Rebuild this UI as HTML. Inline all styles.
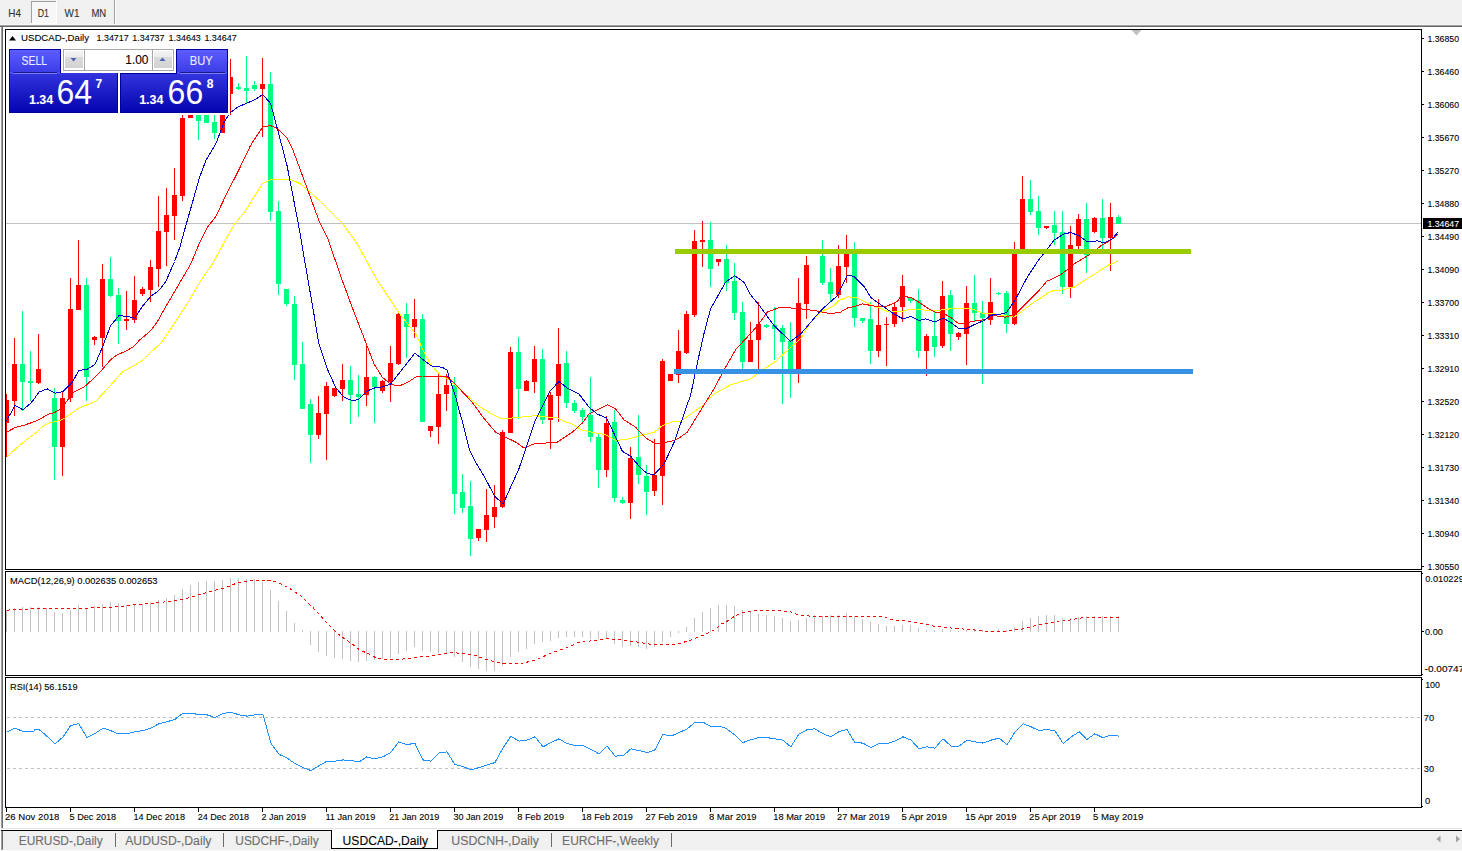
<!DOCTYPE html>
<html><head><meta charset="utf-8"><title>USDCAD-,Daily</title><style>html,body{margin:0;padding:0;background:#fff}body{width:1462px;height:851px;overflow:hidden;position:relative}</style></head><body>
<svg width="1462" height="851" viewBox="0 0 1462 851" font-family="'Liberation Sans', Arial, sans-serif" style="position:absolute;left:0;top:0">
<defs><linearGradient id="tg" x1="0" y1="0" x2="0" y2="1"><stop offset="0" stop-color="#5c5cff"/><stop offset="1" stop-color="#3c3ce6"/></linearGradient><linearGradient id="pg" x1="0" y1="0" x2="0" y2="1"><stop offset="0" stop-color="#3434de"/><stop offset="1" stop-color="#0404b0"/></linearGradient><linearGradient id="bg" x1="0" y1="0" x2="0" y2="1"><stop offset="0" stop-color="#f4f4f4"/><stop offset="0.35" stop-color="#ececec"/><stop offset="0.36" stop-color="#dcdcdc"/><stop offset="1" stop-color="#d2d2d2"/></linearGradient></defs>
<rect x="0" y="0" width="1462" height="851" fill="#ffffff"/>
<rect x="0" y="0" width="1462" height="25" fill="#f0f0f0"/>
<rect x="0" y="24" width="1462" height="1" fill="#f6f6f6"/>
<rect x="0" y="25" width="1462" height="1" fill="#a0a0a0"/>
<rect x="0" y="26" width="1462" height="1" fill="#696969"/>
<rect x="31" y="1" width="25" height="23" fill="#f7f7f7"/>
<rect x="31" y="1" width="25" height="1" fill="#a0a0a0"/>
<rect x="31" y="1" width="1" height="22" fill="#a0a0a0"/>
<rect x="56" y="1" width="1" height="23" fill="#ffffff"/>
<rect x="31" y="23" width="26" height="1" fill="#ffffff"/>
<rect x="114" y="0" width="1" height="24" fill="#a0a0a0"/>
<rect x="115" y="0" width="1" height="24" fill="#ffffff"/>
<text x="8.3" y="17" font-size="10.2" fill="#333" stroke="#333" stroke-width="0.1" textLength="12.6" lengthAdjust="spacingAndGlyphs">H4</text>
<text x="37.8" y="17" font-size="10.2" fill="#333" stroke="#333" stroke-width="0.1" textLength="11.2" lengthAdjust="spacingAndGlyphs">D1</text>
<text x="64.6" y="17" font-size="10.2" fill="#333" stroke="#333" stroke-width="0.1" textLength="14.8" lengthAdjust="spacingAndGlyphs">W1</text>
<text x="91.4" y="17" font-size="10.2" fill="#333" stroke="#333" stroke-width="0.1" textLength="14.8" lengthAdjust="spacingAndGlyphs">MN</text>
<rect x="0" y="27" width="1" height="801" fill="#f8f8f8"/>
<rect x="1" y="27" width="1" height="801" fill="#a0a0a0"/>
<rect x="2" y="27" width="1" height="801" fill="#696969"/>
<rect x="6" y="223" width="1415" height="1" fill="#c0c0c0"/>
<g shape-rendering="crispEdges">
<rect x="6" y="394" width="1" height="63" fill="#ff0000"/>
<rect x="6" y="400" width="3" height="23" fill="#ff0000"/>
<rect x="14" y="338" width="1" height="78" fill="#ff0000"/>
<rect x="12" y="364" width="5" height="37" fill="#ff0000"/>
<rect x="22" y="311" width="1" height="100" fill="#00ff7f"/>
<rect x="20" y="364" width="5" height="18" fill="#00ff7f"/>
<rect x="30" y="351" width="1" height="50" fill="#00ff7f"/>
<rect x="28" y="381" width="5" height="2" fill="#00ff7f"/>
<rect x="38" y="334" width="1" height="50" fill="#ff0000"/>
<rect x="36" y="369" width="5" height="14" fill="#ff0000"/>
<rect x="54" y="388" width="1" height="92" fill="#00ff7f"/>
<rect x="52" y="398" width="5" height="49" fill="#00ff7f"/>
<rect x="62" y="391" width="1" height="85" fill="#ff0000"/>
<rect x="60" y="398" width="5" height="49" fill="#ff0000"/>
<rect x="70" y="278" width="1" height="124" fill="#ff0000"/>
<rect x="68" y="309" width="5" height="89" fill="#ff0000"/>
<rect x="78" y="240" width="1" height="70" fill="#ff0000"/>
<rect x="76" y="285" width="5" height="25" fill="#ff0000"/>
<rect x="86" y="278" width="1" height="123" fill="#00ff7f"/>
<rect x="84" y="285" width="5" height="92" fill="#00ff7f"/>
<rect x="94" y="336" width="1" height="9" fill="#ff0000"/>
<rect x="92" y="337" width="5" height="3" fill="#ff0000"/>
<rect x="102" y="264" width="1" height="103" fill="#ff0000"/>
<rect x="100" y="279" width="5" height="59" fill="#ff0000"/>
<rect x="110" y="257" width="1" height="40" fill="#00ff7f"/>
<rect x="108" y="279" width="5" height="17" fill="#00ff7f"/>
<rect x="118" y="288" width="1" height="56" fill="#00ff7f"/>
<rect x="116" y="295" width="5" height="26" fill="#00ff7f"/>
<rect x="126" y="291" width="1" height="39" fill="#ff0000"/>
<rect x="124" y="319" width="5" height="2" fill="#ff0000"/>
<rect x="134" y="276" width="1" height="47" fill="#ff0000"/>
<rect x="132" y="300" width="5" height="20" fill="#ff0000"/>
<rect x="142" y="287" width="1" height="9" fill="#ff0000"/>
<rect x="140" y="289" width="5" height="5" fill="#ff0000"/>
<rect x="150" y="260" width="1" height="42" fill="#ff0000"/>
<rect x="148" y="267" width="5" height="23" fill="#ff0000"/>
<rect x="158" y="196" width="1" height="91" fill="#ff0000"/>
<rect x="156" y="231" width="5" height="38" fill="#ff0000"/>
<rect x="166" y="188" width="1" height="78" fill="#ff0000"/>
<rect x="164" y="215" width="5" height="17" fill="#ff0000"/>
<rect x="174" y="168" width="1" height="72" fill="#ff0000"/>
<rect x="172" y="195" width="5" height="21" fill="#ff0000"/>
<rect x="182" y="110" width="1" height="91" fill="#ff0000"/>
<rect x="180" y="118" width="5" height="78" fill="#ff0000"/>
<rect x="190" y="110" width="1" height="8" fill="#ff0000"/>
<rect x="188" y="110" width="5" height="8" fill="#ff0000"/>
<rect x="198" y="110" width="1" height="30" fill="#00ff7f"/>
<rect x="196" y="110" width="5" height="11" fill="#00ff7f"/>
<rect x="206" y="110" width="1" height="13" fill="#00ff7f"/>
<rect x="204" y="110" width="5" height="13" fill="#00ff7f"/>
<rect x="214" y="110" width="1" height="29" fill="#00ff7f"/>
<rect x="212" y="122" width="5" height="11" fill="#00ff7f"/>
<rect x="222" y="110" width="1" height="23" fill="#ff0000"/>
<rect x="220" y="110" width="5" height="23" fill="#ff0000"/>
<rect x="230" y="59" width="1" height="56" fill="#ff0000"/>
<rect x="228" y="77" width="5" height="17" fill="#ff0000"/>
<rect x="238" y="83" width="1" height="7" fill="#00ff7f"/>
<rect x="236" y="87" width="5" height="2" fill="#00ff7f"/>
<rect x="246" y="56" width="1" height="47" fill="#00ff7f"/>
<rect x="244" y="88" width="5" height="3" fill="#00ff7f"/>
<rect x="254" y="81" width="1" height="10" fill="#00ff7f"/>
<rect x="252" y="85" width="5" height="4" fill="#00ff7f"/>
<rect x="262" y="58" width="1" height="79" fill="#ff0000"/>
<rect x="260" y="84" width="5" height="5" fill="#ff0000"/>
<rect x="270" y="72" width="1" height="149" fill="#00ff7f"/>
<rect x="268" y="84" width="5" height="128" fill="#00ff7f"/>
<rect x="278" y="201" width="1" height="94" fill="#00ff7f"/>
<rect x="276" y="211" width="5" height="73" fill="#00ff7f"/>
<rect x="286" y="289" width="1" height="17" fill="#00ff7f"/>
<rect x="284" y="289" width="5" height="15" fill="#00ff7f"/>
<rect x="294" y="296" width="1" height="84" fill="#00ff7f"/>
<rect x="292" y="304" width="5" height="61" fill="#00ff7f"/>
<rect x="302" y="342" width="1" height="67" fill="#00ff7f"/>
<rect x="300" y="364" width="5" height="45" fill="#00ff7f"/>
<rect x="310" y="399" width="1" height="64" fill="#00ff7f"/>
<rect x="308" y="404" width="5" height="31" fill="#00ff7f"/>
<rect x="318" y="396" width="1" height="43" fill="#ff0000"/>
<rect x="316" y="413" width="5" height="22" fill="#ff0000"/>
<rect x="326" y="382" width="1" height="78" fill="#ff0000"/>
<rect x="324" y="386" width="5" height="28" fill="#ff0000"/>
<rect x="334" y="388" width="1" height="9" fill="#ff0000"/>
<rect x="332" y="388" width="5" height="8" fill="#ff0000"/>
<rect x="342" y="364" width="1" height="37" fill="#ff0000"/>
<rect x="340" y="380" width="5" height="9" fill="#ff0000"/>
<rect x="350" y="366" width="1" height="58" fill="#00ff7f"/>
<rect x="348" y="380" width="5" height="15" fill="#00ff7f"/>
<rect x="358" y="375" width="1" height="42" fill="#00ff7f"/>
<rect x="356" y="394" width="5" height="3" fill="#00ff7f"/>
<rect x="366" y="344" width="1" height="62" fill="#ff0000"/>
<rect x="364" y="377" width="5" height="18" fill="#ff0000"/>
<rect x="374" y="376" width="1" height="47" fill="#00ff7f"/>
<rect x="372" y="377" width="5" height="10" fill="#00ff7f"/>
<rect x="382" y="380" width="1" height="13" fill="#ff0000"/>
<rect x="380" y="381" width="5" height="10" fill="#ff0000"/>
<rect x="390" y="346" width="1" height="56" fill="#ff0000"/>
<rect x="388" y="363" width="5" height="19" fill="#ff0000"/>
<rect x="398" y="312" width="1" height="53" fill="#ff0000"/>
<rect x="396" y="314" width="5" height="50" fill="#ff0000"/>
<rect x="406" y="303" width="1" height="55" fill="#00ff7f"/>
<rect x="404" y="314" width="5" height="13" fill="#00ff7f"/>
<rect x="414" y="299" width="1" height="39" fill="#ff0000"/>
<rect x="412" y="319" width="5" height="8" fill="#ff0000"/>
<rect x="422" y="314" width="1" height="108" fill="#00ff7f"/>
<rect x="420" y="319" width="5" height="103" fill="#00ff7f"/>
<rect x="430" y="426" width="1" height="11" fill="#ff0000"/>
<rect x="428" y="426" width="5" height="5" fill="#ff0000"/>
<rect x="438" y="373" width="1" height="71" fill="#ff0000"/>
<rect x="436" y="394" width="5" height="33" fill="#ff0000"/>
<rect x="446" y="374" width="1" height="37" fill="#ff0000"/>
<rect x="444" y="385" width="5" height="9" fill="#ff0000"/>
<rect x="454" y="377" width="1" height="137" fill="#00ff7f"/>
<rect x="452" y="385" width="5" height="109" fill="#00ff7f"/>
<rect x="462" y="474" width="1" height="39" fill="#00ff7f"/>
<rect x="460" y="492" width="5" height="16" fill="#00ff7f"/>
<rect x="470" y="481" width="1" height="75" fill="#00ff7f"/>
<rect x="468" y="506" width="5" height="33" fill="#00ff7f"/>
<rect x="478" y="529" width="1" height="12" fill="#ff0000"/>
<rect x="476" y="529" width="5" height="9" fill="#ff0000"/>
<rect x="486" y="489" width="1" height="53" fill="#ff0000"/>
<rect x="484" y="515" width="5" height="15" fill="#ff0000"/>
<rect x="494" y="485" width="1" height="43" fill="#ff0000"/>
<rect x="492" y="507" width="5" height="10" fill="#ff0000"/>
<rect x="502" y="430" width="1" height="78" fill="#ff0000"/>
<rect x="500" y="432" width="5" height="75" fill="#ff0000"/>
<rect x="510" y="347" width="1" height="86" fill="#ff0000"/>
<rect x="508" y="352" width="5" height="81" fill="#ff0000"/>
<rect x="518" y="337" width="1" height="82" fill="#00ff7f"/>
<rect x="516" y="352" width="5" height="37" fill="#00ff7f"/>
<rect x="526" y="380" width="1" height="11" fill="#ff0000"/>
<rect x="524" y="381" width="5" height="10" fill="#ff0000"/>
<rect x="534" y="346" width="1" height="47" fill="#ff0000"/>
<rect x="532" y="359" width="5" height="23" fill="#ff0000"/>
<rect x="542" y="349" width="1" height="75" fill="#00ff7f"/>
<rect x="540" y="359" width="5" height="61" fill="#00ff7f"/>
<rect x="550" y="392" width="1" height="57" fill="#ff0000"/>
<rect x="548" y="395" width="5" height="25" fill="#ff0000"/>
<rect x="558" y="328" width="1" height="94" fill="#ff0000"/>
<rect x="556" y="364" width="5" height="32" fill="#ff0000"/>
<rect x="566" y="351" width="1" height="57" fill="#00ff7f"/>
<rect x="564" y="363" width="5" height="40" fill="#00ff7f"/>
<rect x="574" y="400" width="1" height="13" fill="#00ff7f"/>
<rect x="572" y="403" width="5" height="8" fill="#00ff7f"/>
<rect x="582" y="408" width="1" height="16" fill="#00ff7f"/>
<rect x="580" y="410" width="5" height="7" fill="#00ff7f"/>
<rect x="590" y="377" width="1" height="65" fill="#00ff7f"/>
<rect x="588" y="415" width="5" height="22" fill="#00ff7f"/>
<rect x="598" y="434" width="1" height="54" fill="#00ff7f"/>
<rect x="596" y="437" width="5" height="33" fill="#00ff7f"/>
<rect x="606" y="416" width="1" height="61" fill="#ff0000"/>
<rect x="604" y="423" width="5" height="47" fill="#ff0000"/>
<rect x="614" y="410" width="1" height="92" fill="#00ff7f"/>
<rect x="612" y="422" width="5" height="76" fill="#00ff7f"/>
<rect x="622" y="497" width="1" height="7" fill="#00ff7f"/>
<rect x="620" y="500" width="5" height="3" fill="#00ff7f"/>
<rect x="630" y="447" width="1" height="72" fill="#ff0000"/>
<rect x="628" y="458" width="5" height="45" fill="#ff0000"/>
<rect x="638" y="415" width="1" height="69" fill="#00ff7f"/>
<rect x="636" y="457" width="5" height="18" fill="#00ff7f"/>
<rect x="646" y="465" width="1" height="50" fill="#00ff7f"/>
<rect x="644" y="476" width="5" height="16" fill="#00ff7f"/>
<rect x="654" y="439" width="1" height="57" fill="#ff0000"/>
<rect x="652" y="475" width="5" height="16" fill="#ff0000"/>
<rect x="662" y="359" width="1" height="146" fill="#ff0000"/>
<rect x="660" y="361" width="5" height="115" fill="#ff0000"/>
<rect x="670" y="374" width="1" height="7" fill="#ff0000"/>
<rect x="668" y="374" width="5" height="7" fill="#ff0000"/>
<rect x="678" y="330" width="1" height="53" fill="#ff0000"/>
<rect x="676" y="351" width="5" height="24" fill="#ff0000"/>
<rect x="686" y="311" width="1" height="43" fill="#ff0000"/>
<rect x="684" y="314" width="5" height="39" fill="#ff0000"/>
<rect x="694" y="230" width="1" height="87" fill="#ff0000"/>
<rect x="692" y="241" width="5" height="74" fill="#ff0000"/>
<rect x="702" y="221" width="1" height="46" fill="#ff0000"/>
<rect x="700" y="240" width="5" height="2" fill="#ff0000"/>
<rect x="710" y="222" width="1" height="65" fill="#00ff7f"/>
<rect x="708" y="240" width="5" height="29" fill="#00ff7f"/>
<rect x="718" y="259" width="1" height="7" fill="#ff0000"/>
<rect x="716" y="259" width="5" height="3" fill="#ff0000"/>
<rect x="726" y="245" width="1" height="46" fill="#00ff7f"/>
<rect x="724" y="259" width="5" height="24" fill="#00ff7f"/>
<rect x="734" y="263" width="1" height="57" fill="#00ff7f"/>
<rect x="732" y="281" width="5" height="32" fill="#00ff7f"/>
<rect x="742" y="302" width="1" height="67" fill="#00ff7f"/>
<rect x="740" y="312" width="5" height="50" fill="#00ff7f"/>
<rect x="750" y="322" width="1" height="40" fill="#ff0000"/>
<rect x="748" y="340" width="5" height="22" fill="#ff0000"/>
<rect x="758" y="302" width="1" height="68" fill="#ff0000"/>
<rect x="756" y="324" width="5" height="16" fill="#ff0000"/>
<rect x="766" y="324" width="1" height="4" fill="#00ff7f"/>
<rect x="764" y="325" width="5" height="2" fill="#00ff7f"/>
<rect x="774" y="307" width="1" height="53" fill="#00ff7f"/>
<rect x="772" y="325" width="5" height="4" fill="#00ff7f"/>
<rect x="782" y="325" width="1" height="79" fill="#00ff7f"/>
<rect x="780" y="328" width="5" height="14" fill="#00ff7f"/>
<rect x="790" y="322" width="1" height="76" fill="#00ff7f"/>
<rect x="788" y="341" width="5" height="29" fill="#00ff7f"/>
<rect x="798" y="278" width="1" height="105" fill="#ff0000"/>
<rect x="796" y="303" width="5" height="67" fill="#ff0000"/>
<rect x="806" y="256" width="1" height="63" fill="#ff0000"/>
<rect x="804" y="265" width="5" height="39" fill="#ff0000"/>
<rect x="822" y="240" width="1" height="45" fill="#00ff7f"/>
<rect x="820" y="256" width="5" height="27" fill="#00ff7f"/>
<rect x="830" y="268" width="1" height="33" fill="#00ff7f"/>
<rect x="828" y="282" width="5" height="12" fill="#00ff7f"/>
<rect x="838" y="245" width="1" height="53" fill="#ff0000"/>
<rect x="836" y="266" width="5" height="29" fill="#ff0000"/>
<rect x="846" y="235" width="1" height="48" fill="#ff0000"/>
<rect x="844" y="250" width="5" height="17" fill="#ff0000"/>
<rect x="854" y="242" width="1" height="85" fill="#00ff7f"/>
<rect x="852" y="251" width="5" height="67" fill="#00ff7f"/>
<rect x="862" y="318" width="1" height="5" fill="#00ff7f"/>
<rect x="860" y="318" width="5" height="3" fill="#00ff7f"/>
<rect x="870" y="302" width="1" height="62" fill="#00ff7f"/>
<rect x="868" y="319" width="5" height="32" fill="#00ff7f"/>
<rect x="878" y="299" width="1" height="58" fill="#ff0000"/>
<rect x="876" y="325" width="5" height="26" fill="#ff0000"/>
<rect x="886" y="317" width="1" height="49" fill="#ff0000"/>
<rect x="884" y="324" width="5" height="1" fill="#ff0000"/>
<rect x="894" y="303" width="1" height="24" fill="#ff0000"/>
<rect x="892" y="307" width="5" height="17" fill="#ff0000"/>
<rect x="902" y="275" width="1" height="47" fill="#ff0000"/>
<rect x="900" y="286" width="5" height="21" fill="#ff0000"/>
<rect x="910" y="297" width="1" height="6" fill="#00ff7f"/>
<rect x="908" y="298" width="5" height="3" fill="#00ff7f"/>
<rect x="918" y="289" width="1" height="69" fill="#00ff7f"/>
<rect x="916" y="300" width="5" height="51" fill="#00ff7f"/>
<rect x="926" y="334" width="1" height="42" fill="#ff0000"/>
<rect x="924" y="336" width="5" height="15" fill="#ff0000"/>
<rect x="934" y="312" width="1" height="45" fill="#00ff7f"/>
<rect x="932" y="336" width="5" height="11" fill="#00ff7f"/>
<rect x="942" y="281" width="1" height="67" fill="#ff0000"/>
<rect x="940" y="296" width="5" height="50" fill="#ff0000"/>
<rect x="950" y="290" width="1" height="61" fill="#00ff7f"/>
<rect x="948" y="295" width="5" height="39" fill="#00ff7f"/>
<rect x="958" y="332" width="1" height="8" fill="#ff0000"/>
<rect x="956" y="333" width="5" height="4" fill="#ff0000"/>
<rect x="966" y="286" width="1" height="79" fill="#ff0000"/>
<rect x="964" y="303" width="5" height="31" fill="#ff0000"/>
<rect x="974" y="275" width="1" height="47" fill="#00ff7f"/>
<rect x="972" y="303" width="5" height="10" fill="#00ff7f"/>
<rect x="982" y="301" width="1" height="83" fill="#00ff7f"/>
<rect x="980" y="313" width="5" height="5" fill="#00ff7f"/>
<rect x="990" y="278" width="1" height="47" fill="#ff0000"/>
<rect x="988" y="302" width="5" height="18" fill="#ff0000"/>
<rect x="998" y="292" width="1" height="3" fill="#00ff7f"/>
<rect x="996" y="293" width="5" height="1" fill="#00ff7f"/>
<rect x="1006" y="291" width="1" height="42" fill="#00ff7f"/>
<rect x="1004" y="293" width="5" height="31" fill="#00ff7f"/>
<rect x="1014" y="242" width="1" height="83" fill="#ff0000"/>
<rect x="1012" y="251" width="5" height="73" fill="#ff0000"/>
<rect x="1022" y="176" width="1" height="77" fill="#ff0000"/>
<rect x="1020" y="199" width="5" height="54" fill="#ff0000"/>
<rect x="1030" y="180" width="1" height="35" fill="#00ff7f"/>
<rect x="1028" y="199" width="5" height="13" fill="#00ff7f"/>
<rect x="1038" y="196" width="1" height="39" fill="#00ff7f"/>
<rect x="1036" y="211" width="5" height="17" fill="#00ff7f"/>
<rect x="1046" y="226" width="1" height="3" fill="#ff0000"/>
<rect x="1044" y="226" width="5" height="2" fill="#ff0000"/>
<rect x="1054" y="211" width="1" height="34" fill="#00ff7f"/>
<rect x="1052" y="225" width="5" height="8" fill="#00ff7f"/>
<rect x="1062" y="211" width="1" height="83" fill="#00ff7f"/>
<rect x="1060" y="232" width="5" height="55" fill="#00ff7f"/>
<rect x="1070" y="226" width="1" height="72" fill="#ff0000"/>
<rect x="1068" y="245" width="5" height="42" fill="#ff0000"/>
<rect x="1078" y="214" width="1" height="36" fill="#ff0000"/>
<rect x="1076" y="219" width="5" height="27" fill="#ff0000"/>
<rect x="1086" y="203" width="1" height="70" fill="#00ff7f"/>
<rect x="1084" y="219" width="5" height="36" fill="#00ff7f"/>
<rect x="1094" y="217" width="1" height="16" fill="#ff0000"/>
<rect x="1092" y="218" width="5" height="14" fill="#ff0000"/>
<rect x="1102" y="199" width="1" height="51" fill="#00ff7f"/>
<rect x="1100" y="218" width="5" height="20" fill="#00ff7f"/>
<rect x="1110" y="203" width="1" height="68" fill="#ff0000"/>
<rect x="1108" y="217" width="5" height="21" fill="#ff0000"/>
<rect x="1118" y="215" width="1" height="9" fill="#00ff7f"/>
<rect x="1116" y="217" width="5" height="7" fill="#00ff7f"/>
</g>
<g fill="none" stroke-width="1" shape-rendering="crispEdges" stroke-linejoin="round">
<polyline points="6.5,457.3 15.5,449.0 25.5,440.6 35.5,433.1 43.9,425.6 48.9,423.1 62.2,419.8 70.6,413.9 78.9,408.1 95.6,401.4 107.3,388.9 122.3,372.2 132.3,366.4 142.4,360.5 150.7,352.2 160.7,343.5 175.7,321.5 189.1,300.6 200.8,280.6 212.5,263.9 222.5,245.5 230.8,230.5 234.1,224.8 240.5,216.5 244.5,212.3 262.2,183.9 270.5,179.9 280.5,179.9 290.5,179.2 300.5,183.9 322.3,203.1 342.3,223.1 357.3,244.0 377.3,280.5 384.0,290.5 399.0,313.0 415.7,333.9 424.1,352.3 430.8,364.8 440.8,375.6 447.5,379.0 457.5,387.3 470.8,399.0 480.5,407.3 490.5,413.1 502.2,419.0 513.9,417.8 535.6,415.7 558.9,418.2 564.0,421.3 574.0,424.8 580.7,429.7 589.0,431.5 595.7,433.0 605.7,434.7 615.7,440.5 629.1,438.9 644.1,434.7 654.1,432.2 662.5,425.5 670.8,422.2 680.8,421.0 700.5,407.3 713.9,394.0 730.6,384.8 750.6,378.9 763.9,368.9 775.6,361.4 789.0,348.9 800.7,338.5 810.7,322.2 822.4,311.0 834.0,305.6 839.0,300.5 847.4,296.9 855.7,297.3 870.8,304.8 889.1,312.0 900.8,311.7 910.8,309.1 920.5,309.7 933.9,310.9 945.5,309.4 955.6,308.1 967.3,308.1 973.9,309.7 983.9,313.6 994.0,313.9 1004.0,315.6 1014.0,317.2 1020.7,312.2 1034.0,302.2 1050.7,291.4 1053.9,290.7 1064.1,289.7 1070.6,287.3 1074.1,287.2 1084.0,280.7 1092.4,275.5 1097.3,272.3 1109.1,264.7 1110.7,264.8 1118.2,260.6" stroke="#ffff00"/>
<polyline points="6.5,432.3 15.5,427.3 23.0,425.6 31.1,422.8 38.9,419.8 48.9,413.9 54.7,412.6 60.6,408.9 73.9,392.2 83.9,387.2 94.0,378.1 102.3,369.5 110.6,359.7 117.3,354.7 125.7,351.3 134.0,346.3 139.0,340.6 150.7,330.6 157.4,321.5 167.4,303.9 175.7,289.7 190.8,263.9 199.1,244.0 207.4,227.3 215.8,216.5 225.8,195.6 238.6,170.4 244.5,158.1 250.6,145.3 262.7,127.0 270.7,125.6 277.3,128.6 287.4,138.6 293.1,150.5 299.9,168.7 307.3,188.9 318.9,220.5 327.3,237.3 342.3,280.5 354.0,312.2 365.7,342.2 374.0,363.9 382.4,377.3 390.7,384.3 399.0,386.0 407.4,382.6 415.7,377.0 422.4,376.0 437.4,376.6 447.5,377.0 457.5,386.5 470.8,400.7 484.5,419.0 495.6,432.2 503.9,436.4 516.4,442.4 523.9,448.0 534.0,443.9 557.3,442.2 572.3,432.2 582.4,423.0 589.0,414.0 607.3,404.8 615.7,409.0 624.0,419.8 635.7,427.3 640.8,433.0 647.4,439.0 655.8,443.9 665.8,442.2 674.1,440.5 680.5,437.0 687.2,432.3 700.5,410.6 713.9,389.0 725.5,367.3 735.6,349.7 750.6,333.5 758.9,323.9 767.3,312.0 780.6,307.2 797.3,308.5 814.0,310.5 830.7,313.8 840.7,312.0 847.4,308.0 854.1,306.5 862.4,303.9 874.1,306.0 887.4,306.0 897.4,301.5 900.5,296.4 905.8,296.9 910.5,297.2 918.9,302.2 928.9,308.9 935.5,312.2 943.9,313.6 950.5,317.2 958.9,323.9 967.3,322.6 975.6,320.9 983.9,319.7 994.0,315.6 1005.6,317.2 1015.7,313.9 1025.7,303.9 1039.0,290.5 1047.3,280.7 1050.7,279.7 1060.7,274.7 1067.4,269.7 1074.0,264.0 1089.0,254.8 1102.3,244.8 1110.7,240.3 1118.2,233.9" stroke="#ff0000"/>
<polyline points="6.3,421.2 15.0,405.5 23.0,409.8 30.5,403.3 34.1,399.1 38.9,392.2 47.2,388.9 55.5,393.1 63.1,391.5 72.3,382.2 78.9,370.5 87.3,369.2 94.8,364.7 102.3,347.5 110.6,325.6 119.0,315.6 127.3,316.5 134.8,318.1 142.4,306.4 150.7,296.4 158.7,290.6 165.7,281.8 174.5,261.5 179.8,247.5 185.1,228.1 192.2,203.4 199.2,178.5 205.8,160.6 215.8,143.9 224.1,122.2 230.0,113.0 237.5,107.2 244.0,104.4 255.6,99.4 262.7,94.4 270.7,103.6 277.3,128.6 283.1,150.5 287.4,167.0 288.9,175.5 298.1,222.3 308.1,280.5 313.9,313.9 318.9,343.9 327.3,369.0 335.6,387.3 344.0,397.3 352.3,400.7 359.0,399.3 367.3,391.0 374.0,388.1 384.0,386.5 390.7,384.0 414.9,353.1 424.1,360.6 431.6,365.9 442.4,367.3 447.5,370.5 449.1,377.3 455.8,397.3 459.1,410.5 462.2,420.5 469.7,450.5 477.5,465.5 484.7,477.2 494.7,496.4 503.1,503.9 518.9,468.9 525.6,448.9 535.6,419.5 549.8,391.5 558.9,381.5 567.3,388.1 579.0,394.0 589.0,407.3 597.3,414.0 606.5,418.0 614.5,434.5 622.4,451.4 630.8,456.4 640.8,468.1 647.4,473.6 654.1,474.7 664.1,463.9 674.1,442.2 681.7,420.5 687.4,404.0 690.5,395.6 697.2,363.9 699.7,352.4 703.9,333.9 710.5,309.0 725.5,282.3 734.7,275.6 743.9,282.3 750.6,294.8 758.9,304.8 774.0,325.7 790.6,341.5 800.7,334.0 820.7,310.6 837.4,295.6 847.4,275.3 854.1,276.4 864.1,286.4 870.8,297.6 880.8,304.8 894.1,314.0 903.3,319.0 910.8,316.5 919.2,320.6 925.5,318.9 934.7,321.9 943.1,318.1 950.5,322.2 958.9,328.6 966.4,328.6 973.9,324.8 983.9,320.6 990.6,315.2 1000.6,314.2 1006.5,312.6 1015.7,298.9 1027.3,277.2 1038.2,260.5 1042.2,255.6 1053.9,240.3 1063.9,233.9 1070.6,232.6 1079.0,235.6 1087.3,241.9 1097.3,240.9 1104.0,243.1 1112.3,238.9 1118.2,231.9" stroke="#0000cd"/>
</g>
<g shape-rendering="crispEdges">
<rect x="675" y="249" width="516" height="5" fill="#99cc00"/>
<rect x="674" y="369" width="519" height="5" fill="#3892e3"/>
</g>
<polygon points="1131.5,30 1141.5,30 1136.5,35.5" fill="#c0c0c0"/>
<g shape-rendering="crispEdges">
<rect x="6" y="610" width="1" height="22" fill="#c0c0c0"/>
<rect x="14" y="608" width="1" height="24" fill="#c0c0c0"/>
<rect x="22" y="607" width="1" height="25" fill="#c0c0c0"/>
<rect x="30" y="607" width="1" height="25" fill="#c0c0c0"/>
<rect x="38" y="607" width="1" height="25" fill="#c0c0c0"/>
<rect x="46" y="608" width="1" height="24" fill="#c0c0c0"/>
<rect x="54" y="612" width="1" height="20" fill="#c0c0c0"/>
<rect x="62" y="613" width="1" height="19" fill="#c0c0c0"/>
<rect x="70" y="610" width="1" height="22" fill="#c0c0c0"/>
<rect x="78" y="605" width="1" height="27" fill="#c0c0c0"/>
<rect x="86" y="608" width="1" height="24" fill="#c0c0c0"/>
<rect x="94" y="606" width="1" height="26" fill="#c0c0c0"/>
<rect x="102" y="604" width="1" height="28" fill="#c0c0c0"/>
<rect x="110" y="602" width="1" height="30" fill="#c0c0c0"/>
<rect x="118" y="603" width="1" height="29" fill="#c0c0c0"/>
<rect x="126" y="605" width="1" height="27" fill="#c0c0c0"/>
<rect x="134" y="604" width="1" height="28" fill="#c0c0c0"/>
<rect x="142" y="604" width="1" height="28" fill="#c0c0c0"/>
<rect x="150" y="602" width="1" height="30" fill="#c0c0c0"/>
<rect x="158" y="600" width="1" height="32" fill="#c0c0c0"/>
<rect x="166" y="598" width="1" height="34" fill="#c0c0c0"/>
<rect x="174" y="595" width="1" height="37" fill="#c0c0c0"/>
<rect x="182" y="589" width="1" height="43" fill="#c0c0c0"/>
<rect x="190" y="585" width="1" height="47" fill="#c0c0c0"/>
<rect x="198" y="582" width="1" height="50" fill="#c0c0c0"/>
<rect x="206" y="581" width="1" height="51" fill="#c0c0c0"/>
<rect x="214" y="581" width="1" height="51" fill="#c0c0c0"/>
<rect x="222" y="580" width="1" height="52" fill="#c0c0c0"/>
<rect x="230" y="578" width="1" height="54" fill="#c0c0c0"/>
<rect x="238" y="578" width="1" height="54" fill="#c0c0c0"/>
<rect x="246" y="579" width="1" height="53" fill="#c0c0c0"/>
<rect x="254" y="579" width="1" height="53" fill="#c0c0c0"/>
<rect x="262" y="582" width="1" height="50" fill="#c0c0c0"/>
<rect x="270" y="590" width="1" height="42" fill="#c0c0c0"/>
<rect x="278" y="601" width="1" height="31" fill="#c0c0c0"/>
<rect x="286" y="611" width="1" height="21" fill="#c0c0c0"/>
<rect x="294" y="623" width="1" height="9" fill="#c0c0c0"/>
<rect x="302" y="630" width="1" height="2" fill="#c0c0c0"/>
<rect x="310" y="631" width="1" height="14" fill="#c0c0c0"/>
<rect x="318" y="631" width="1" height="21" fill="#c0c0c0"/>
<rect x="326" y="631" width="1" height="25" fill="#c0c0c0"/>
<rect x="334" y="631" width="1" height="27" fill="#c0c0c0"/>
<rect x="342" y="631" width="1" height="28" fill="#c0c0c0"/>
<rect x="350" y="631" width="1" height="30" fill="#c0c0c0"/>
<rect x="358" y="631" width="1" height="31" fill="#c0c0c0"/>
<rect x="366" y="631" width="1" height="30" fill="#c0c0c0"/>
<rect x="374" y="631" width="1" height="29" fill="#c0c0c0"/>
<rect x="382" y="631" width="1" height="28" fill="#c0c0c0"/>
<rect x="390" y="631" width="1" height="27" fill="#c0c0c0"/>
<rect x="398" y="631" width="1" height="23" fill="#c0c0c0"/>
<rect x="406" y="631" width="1" height="20" fill="#c0c0c0"/>
<rect x="414" y="631" width="1" height="16" fill="#c0c0c0"/>
<rect x="422" y="631" width="1" height="20" fill="#c0c0c0"/>
<rect x="430" y="631" width="1" height="21" fill="#c0c0c0"/>
<rect x="438" y="631" width="1" height="22" fill="#c0c0c0"/>
<rect x="446" y="631" width="1" height="22" fill="#c0c0c0"/>
<rect x="454" y="631" width="1" height="26" fill="#c0c0c0"/>
<rect x="462" y="631" width="1" height="31" fill="#c0c0c0"/>
<rect x="470" y="631" width="1" height="36" fill="#c0c0c0"/>
<rect x="478" y="631" width="1" height="38" fill="#c0c0c0"/>
<rect x="486" y="631" width="1" height="40" fill="#c0c0c0"/>
<rect x="494" y="631" width="1" height="40" fill="#c0c0c0"/>
<rect x="502" y="631" width="1" height="35" fill="#c0c0c0"/>
<rect x="510" y="631" width="1" height="26" fill="#c0c0c0"/>
<rect x="518" y="631" width="1" height="21" fill="#c0c0c0"/>
<rect x="526" y="631" width="1" height="18" fill="#c0c0c0"/>
<rect x="534" y="631" width="1" height="13" fill="#c0c0c0"/>
<rect x="542" y="631" width="1" height="11" fill="#c0c0c0"/>
<rect x="550" y="631" width="1" height="10" fill="#c0c0c0"/>
<rect x="558" y="631" width="1" height="7" fill="#c0c0c0"/>
<rect x="566" y="631" width="1" height="6" fill="#c0c0c0"/>
<rect x="574" y="631" width="1" height="6" fill="#c0c0c0"/>
<rect x="582" y="631" width="1" height="6" fill="#c0c0c0"/>
<rect x="590" y="631" width="1" height="8" fill="#c0c0c0"/>
<rect x="598" y="631" width="1" height="8" fill="#c0c0c0"/>
<rect x="606" y="631" width="1" height="8" fill="#c0c0c0"/>
<rect x="614" y="631" width="1" height="13" fill="#c0c0c0"/>
<rect x="622" y="631" width="1" height="16" fill="#c0c0c0"/>
<rect x="630" y="631" width="1" height="15" fill="#c0c0c0"/>
<rect x="638" y="631" width="1" height="16" fill="#c0c0c0"/>
<rect x="646" y="631" width="1" height="18" fill="#c0c0c0"/>
<rect x="654" y="631" width="1" height="16" fill="#c0c0c0"/>
<rect x="662" y="631" width="1" height="11" fill="#c0c0c0"/>
<rect x="670" y="631" width="1" height="6" fill="#c0c0c0"/>
<rect x="678" y="631" width="1" height="2" fill="#c0c0c0"/>
<rect x="686" y="627" width="1" height="5" fill="#c0c0c0"/>
<rect x="694" y="618" width="1" height="14" fill="#c0c0c0"/>
<rect x="702" y="612" width="1" height="20" fill="#c0c0c0"/>
<rect x="710" y="608" width="1" height="24" fill="#c0c0c0"/>
<rect x="718" y="605" width="1" height="27" fill="#c0c0c0"/>
<rect x="726" y="605" width="1" height="27" fill="#c0c0c0"/>
<rect x="734" y="606" width="1" height="26" fill="#c0c0c0"/>
<rect x="742" y="610" width="1" height="22" fill="#c0c0c0"/>
<rect x="750" y="612" width="1" height="20" fill="#c0c0c0"/>
<rect x="758" y="614" width="1" height="18" fill="#c0c0c0"/>
<rect x="766" y="615" width="1" height="17" fill="#c0c0c0"/>
<rect x="774" y="616" width="1" height="16" fill="#c0c0c0"/>
<rect x="782" y="618" width="1" height="14" fill="#c0c0c0"/>
<rect x="790" y="621" width="1" height="11" fill="#c0c0c0"/>
<rect x="798" y="620" width="1" height="12" fill="#c0c0c0"/>
<rect x="806" y="618" width="1" height="14" fill="#c0c0c0"/>
<rect x="814" y="615" width="1" height="17" fill="#c0c0c0"/>
<rect x="822" y="616" width="1" height="16" fill="#c0c0c0"/>
<rect x="830" y="615" width="1" height="17" fill="#c0c0c0"/>
<rect x="838" y="615" width="1" height="17" fill="#c0c0c0"/>
<rect x="846" y="613" width="1" height="19" fill="#c0c0c0"/>
<rect x="854" y="616" width="1" height="16" fill="#c0c0c0"/>
<rect x="862" y="619" width="1" height="13" fill="#c0c0c0"/>
<rect x="870" y="622" width="1" height="10" fill="#c0c0c0"/>
<rect x="878" y="624" width="1" height="8" fill="#c0c0c0"/>
<rect x="886" y="626" width="1" height="6" fill="#c0c0c0"/>
<rect x="894" y="626" width="1" height="6" fill="#c0c0c0"/>
<rect x="902" y="625" width="1" height="7" fill="#c0c0c0"/>
<rect x="910" y="625" width="1" height="7" fill="#c0c0c0"/>
<rect x="918" y="628" width="1" height="4" fill="#c0c0c0"/>
<rect x="926" y="630" width="1" height="2" fill="#c0c0c0"/>
<rect x="934" y="630" width="1" height="2" fill="#c0c0c0"/>
<rect x="942" y="629" width="1" height="3" fill="#c0c0c0"/>
<rect x="950" y="630" width="1" height="2" fill="#c0c0c0"/>
<rect x="958" y="631" width="1" height="1" fill="#c0c0c0"/>
<rect x="966" y="630" width="1" height="2" fill="#c0c0c0"/>
<rect x="974" y="630" width="1" height="2" fill="#c0c0c0"/>
<rect x="982" y="630" width="1" height="2" fill="#c0c0c0"/>
<rect x="990" y="631" width="1" height="1" fill="#c0c0c0"/>
<rect x="998" y="629" width="1" height="3" fill="#c0c0c0"/>
<rect x="1006" y="630" width="1" height="2" fill="#c0c0c0"/>
<rect x="1014" y="627" width="1" height="5" fill="#c0c0c0"/>
<rect x="1022" y="621" width="1" height="11" fill="#c0c0c0"/>
<rect x="1030" y="618" width="1" height="14" fill="#c0c0c0"/>
<rect x="1038" y="616" width="1" height="16" fill="#c0c0c0"/>
<rect x="1046" y="615" width="1" height="17" fill="#c0c0c0"/>
<rect x="1054" y="615" width="1" height="17" fill="#c0c0c0"/>
<rect x="1062" y="618" width="1" height="14" fill="#c0c0c0"/>
<rect x="1070" y="618" width="1" height="14" fill="#c0c0c0"/>
<rect x="1078" y="617" width="1" height="15" fill="#c0c0c0"/>
<rect x="1086" y="616" width="1" height="16" fill="#c0c0c0"/>
<rect x="1094" y="616" width="1" height="16" fill="#c0c0c0"/>
<rect x="1102" y="616" width="1" height="16" fill="#c0c0c0"/>
<rect x="1110" y="616" width="1" height="16" fill="#c0c0c0"/>
<rect x="1118" y="616" width="1" height="16" fill="#c0c0c0"/>
</g>
<polyline points="6.8,610.1 25.5,609.3 30.5,609.0 50.5,608.8 75.5,608.6 100.5,607.5 118.1,606.8 130.7,605.0 150.7,603.5 170.7,601.3 185.7,598.8 200.8,594.3 215.8,590.0 225.8,587.5 238.3,582.5 250.8,580.5 265.8,580.0 275.8,581.8 288.4,587.5 300.9,596.0 313.4,608.1 325.9,621.8 338.4,634.3 350.9,643.1 360.7,650.6 366.5,652.8 375.5,657.6 385.5,659.4 398.0,659.6 410.6,658.1 425.6,656.4 440.6,654.4 453.1,652.6 463.1,653.6 475.6,655.6 485.7,659.4 495.7,661.9 505.7,663.6 520.7,663.6 535.7,660.1 550.7,653.1 565.8,648.1 578.3,642.6 593.3,640.6 605.8,638.6 620.8,639.8 635.8,641.8 650.9,644.3 665.9,644.8 678.4,643.8 690.9,640.1 703.4,635.1 715.9,629.3 720.5,624.3 726.5,621.8 735.5,615.6 745.5,611.8 758.0,610.0 775.6,610.0 790.6,611.8 798.1,615.1 810.6,616.1 825.6,616.8 845.7,616.8 858.2,616.3 870.7,616.1 883.2,616.8 893.2,620.1 905.7,620.6 920.8,623.1 933.3,626.1 945.8,627.6 960.8,628.8 975.8,630.1 985.8,631.1 1005.9,631.1 1020.9,629.3 1033.4,626.1 1045.9,623.6 1058.4,621.8 1070.9,619.8 1086.5,617.0 1118.5,617.0" fill="none" stroke="#ff0000" stroke-width="1" stroke-dasharray="3 3" shape-rendering="crispEdges"/>
<g shape-rendering="crispEdges">
<line x1="7" y1="717.5" x2="1421" y2="717.5" stroke="#c0c0c0" stroke-dasharray="3 3"/>
<line x1="7" y1="768.5" x2="1421" y2="768.5" stroke="#c0c0c0" stroke-dasharray="3 3"/>
</g>
<polyline points="6.6,732.1 15.1,728.0 21.9,731.1 34.1,731.1 34.5,729.9 39.3,729.9 44.5,733.9 55.0,744.0 63.1,736.8 70.6,725.6 78.8,723.6 86.9,737.6 95.6,733.1 103.1,728.1 110.6,730.6 118.1,733.8 126.9,733.8 134.9,731.8 143.2,730.6 150.7,728.1 158.9,723.8 167.0,721.8 175.0,719.3 183.0,713.0 191.0,713.0 199.0,714.8 207.0,714.8 215.0,717.6 223.0,713.5 231.0,712.3 239.0,714.8 247.1,716.1 255.1,714.8 263.1,715.0 271.1,743.6 279.1,754.3 287.1,758.1 295.1,763.6 303.1,767.6 311.1,770.6 319.1,765.6 327.2,761.1 335.2,761.1 343.2,759.9 351.2,760.6 359.2,761.9 366.5,756.9 374.8,758.9 382.8,756.9 390.8,752.6 398.8,741.8 406.8,744.8 414.8,743.1 422.8,759.9 430.8,761.1 438.8,753.1 446.9,751.8 454.9,764.4 462.9,766.4 470.9,769.9 478.9,767.6 486.9,764.9 494.9,762.6 502.9,748.1 510.9,736.1 518.9,741.1 527.0,740.1 535.0,736.8 543.0,746.8 551.0,742.6 559.0,738.8 567.0,743.6 575.0,745.6 583.0,745.6 591.0,749.3 599.0,753.8 607.1,746.1 615.1,756.1 623.1,755.6 631.1,748.8 639.1,750.6 647.1,752.6 655.1,749.8 663.1,734.3 671.1,736.1 679.1,732.6 687.2,728.8 695.2,722.3 703.2,722.3 711.2,726.8 719.2,726.1 726.5,728.6 734.8,735.1 742.8,742.6 750.8,739.8 758.8,737.6 766.8,737.6 774.8,738.8 782.8,740.1 790.8,746.8 798.8,734.3 806.9,729.8 814.9,728.8 822.9,733.6 830.9,736.8 838.9,731.8 846.9,729.3 854.9,742.6 862.9,743.1 870.9,747.6 878.9,743.6 887.0,743.6 895.0,741.1 903.0,736.8 911.0,740.1 919.0,748.8 927.0,746.8 935.0,748.1 943.0,738.8 951.0,746.1 959.0,746.1 967.1,740.1 975.1,741.8 983.1,743.1 991.1,740.1 999.1,738.1 1007.1,744.8 1015.1,731.8 1023.1,723.8 1031.1,726.8 1039.1,730.6 1047.2,729.3 1055.2,731.1 1063.2,743.6 1071.2,736.8 1079.2,731.8 1086.8,739.5 1094.9,733.8 1103.0,737.7 1111.1,735.1 1119.2,736.1" fill="none" stroke="#1e90ff" stroke-width="1" shape-rendering="crispEdges"/>
<g shape-rendering="crispEdges">
<rect x="5" y="29" width="1417" height="1" fill="#000"/>
<rect x="5" y="569" width="1417" height="1" fill="#000"/>
<rect x="5" y="29" width="1" height="541" fill="#000"/>
<rect x="1421" y="29" width="1" height="541" fill="#000"/>
<rect x="5" y="571" width="1417" height="1" fill="#000"/>
<rect x="5" y="675" width="1417" height="1" fill="#000"/>
<rect x="5" y="571" width="1" height="105" fill="#000"/>
<rect x="1421" y="571" width="1" height="105" fill="#000"/>
<rect x="5" y="677" width="1417" height="1" fill="#000"/>
<rect x="5" y="807" width="1417" height="1" fill="#000"/>
<rect x="5" y="677" width="1" height="131" fill="#000"/>
<rect x="1421" y="677" width="1" height="131" fill="#000"/>
</g>
<g shape-rendering="crispEdges">
<rect x="1422" y="38" width="2" height="1" fill="#000"/>
<rect x="1422" y="71" width="2" height="1" fill="#000"/>
<rect x="1422" y="104" width="2" height="1" fill="#000"/>
<rect x="1422" y="137" width="2" height="1" fill="#000"/>
<rect x="1422" y="170" width="2" height="1" fill="#000"/>
<rect x="1422" y="203" width="2" height="1" fill="#000"/>
<rect x="1422" y="236" width="2" height="1" fill="#000"/>
<rect x="1422" y="269" width="2" height="1" fill="#000"/>
<rect x="1422" y="302" width="2" height="1" fill="#000"/>
<rect x="1422" y="335" width="2" height="1" fill="#000"/>
<rect x="1422" y="368" width="2" height="1" fill="#000"/>
<rect x="1422" y="401" width="2" height="1" fill="#000"/>
<rect x="1422" y="434" width="2" height="1" fill="#000"/>
<rect x="1422" y="467" width="2" height="1" fill="#000"/>
<rect x="1422" y="500" width="2" height="1" fill="#000"/>
<rect x="1422" y="533" width="2" height="1" fill="#000"/>
<rect x="1422" y="566" width="2" height="1" fill="#000"/>
</g>
<text x="1427.5" y="42" font-size="9.7" fill="#000" stroke="#000" stroke-width="0.1" textLength="31.5" lengthAdjust="spacingAndGlyphs">1.36850</text>
<text x="1427.5" y="75" font-size="9.7" fill="#000" stroke="#000" stroke-width="0.1" textLength="31.5" lengthAdjust="spacingAndGlyphs">1.36460</text>
<text x="1427.5" y="108" font-size="9.7" fill="#000" stroke="#000" stroke-width="0.1" textLength="31.5" lengthAdjust="spacingAndGlyphs">1.36060</text>
<text x="1427.5" y="141" font-size="9.7" fill="#000" stroke="#000" stroke-width="0.1" textLength="31.5" lengthAdjust="spacingAndGlyphs">1.35670</text>
<text x="1427.5" y="174" font-size="9.7" fill="#000" stroke="#000" stroke-width="0.1" textLength="31.5" lengthAdjust="spacingAndGlyphs">1.35270</text>
<text x="1427.5" y="207" font-size="9.7" fill="#000" stroke="#000" stroke-width="0.1" textLength="31.5" lengthAdjust="spacingAndGlyphs">1.34880</text>
<text x="1427.5" y="240" font-size="9.7" fill="#000" stroke="#000" stroke-width="0.1" textLength="31.5" lengthAdjust="spacingAndGlyphs">1.34490</text>
<text x="1427.5" y="273" font-size="9.7" fill="#000" stroke="#000" stroke-width="0.1" textLength="31.5" lengthAdjust="spacingAndGlyphs">1.34090</text>
<text x="1427.5" y="306" font-size="9.7" fill="#000" stroke="#000" stroke-width="0.1" textLength="31.5" lengthAdjust="spacingAndGlyphs">1.33700</text>
<text x="1427.5" y="339" font-size="9.7" fill="#000" stroke="#000" stroke-width="0.1" textLength="31.5" lengthAdjust="spacingAndGlyphs">1.33310</text>
<text x="1427.5" y="372" font-size="9.7" fill="#000" stroke="#000" stroke-width="0.1" textLength="31.5" lengthAdjust="spacingAndGlyphs">1.32910</text>
<text x="1427.5" y="405" font-size="9.7" fill="#000" stroke="#000" stroke-width="0.1" textLength="31.5" lengthAdjust="spacingAndGlyphs">1.32520</text>
<text x="1427.5" y="438" font-size="9.7" fill="#000" stroke="#000" stroke-width="0.1" textLength="31.5" lengthAdjust="spacingAndGlyphs">1.32120</text>
<text x="1427.5" y="471" font-size="9.7" fill="#000" stroke="#000" stroke-width="0.1" textLength="31.5" lengthAdjust="spacingAndGlyphs">1.31730</text>
<text x="1427.5" y="504" font-size="9.7" fill="#000" stroke="#000" stroke-width="0.1" textLength="31.5" lengthAdjust="spacingAndGlyphs">1.31340</text>
<text x="1427.5" y="537" font-size="9.7" fill="#000" stroke="#000" stroke-width="0.1" textLength="31.5" lengthAdjust="spacingAndGlyphs">1.30940</text>
<text x="1427.5" y="570" font-size="9.7" fill="#000" stroke="#000" stroke-width="0.1" textLength="31.5" lengthAdjust="spacingAndGlyphs">1.30550</text>
<rect x="1423" y="218" width="39" height="11" fill="#000"/>
<text x="1427.5" y="227" font-size="9.7" fill="#fff" stroke="#fff" stroke-width="0.1" textLength="31.5" lengthAdjust="spacingAndGlyphs">1.34647</text>
<rect x="1422" y="573" width="1" height="1" fill="#000"/>
<rect x="1422" y="631" width="2" height="1" fill="#000"/>
<rect x="1422" y="674" width="1" height="1" fill="#000"/>
<text x="1425.2" y="582" font-size="9.7" fill="#000" stroke="#000" stroke-width="0.1" textLength="38.6" lengthAdjust="spacingAndGlyphs">0.010229</text>
<text x="1425" y="635" font-size="9.7" fill="#000" stroke="#000" stroke-width="0.1" textLength="17.8" lengthAdjust="spacingAndGlyphs">0.00</text>
<text x="1424.6" y="672" font-size="9.7" fill="#000" stroke="#000" stroke-width="0.1" textLength="39.6" lengthAdjust="spacingAndGlyphs">-0.00747</text>
<rect x="1422" y="679" width="1" height="1" fill="#000"/>
<rect x="1422" y="806" width="1" height="1" fill="#000"/>
<text x="1425.2" y="688" font-size="9.7" fill="#000" stroke="#000" stroke-width="0.1" textLength="14.8" lengthAdjust="spacingAndGlyphs">100</text>
<text x="1423.8" y="721" font-size="9.7" fill="#000" stroke="#000" stroke-width="0.1" textLength="10.3" lengthAdjust="spacingAndGlyphs">70</text>
<text x="1423.8" y="772" font-size="9.7" fill="#000" stroke="#000" stroke-width="0.1" textLength="10.3" lengthAdjust="spacingAndGlyphs">30</text>
<text x="1425" y="804" font-size="9.7" fill="#000" stroke="#000" stroke-width="0.1" textLength="5.2" lengthAdjust="spacingAndGlyphs">0</text>
<g shape-rendering="crispEdges">
<rect x="6" y="808" width="1" height="4" fill="#000"/>
<rect x="70" y="808" width="1" height="4" fill="#000"/>
<rect x="134" y="808" width="1" height="4" fill="#000"/>
<rect x="198" y="808" width="1" height="4" fill="#000"/>
<rect x="262" y="808" width="1" height="4" fill="#000"/>
<rect x="326" y="808" width="1" height="4" fill="#000"/>
<rect x="390" y="808" width="1" height="4" fill="#000"/>
<rect x="454" y="808" width="1" height="4" fill="#000"/>
<rect x="518" y="808" width="1" height="4" fill="#000"/>
<rect x="582" y="808" width="1" height="4" fill="#000"/>
<rect x="646" y="808" width="1" height="4" fill="#000"/>
<rect x="710" y="808" width="1" height="4" fill="#000"/>
<rect x="774" y="808" width="1" height="4" fill="#000"/>
<rect x="838" y="808" width="1" height="4" fill="#000"/>
<rect x="902" y="808" width="1" height="4" fill="#000"/>
<rect x="966" y="808" width="1" height="4" fill="#000"/>
<rect x="1030" y="808" width="1" height="4" fill="#000"/>
<rect x="1094" y="808" width="1" height="4" fill="#000"/>
</g>
<text x="5.0" y="820" font-size="9.7" fill="#000" stroke="#000" stroke-width="0.1" textLength="54.4" lengthAdjust="spacingAndGlyphs">26 Nov 2018</text>
<text x="69.6" y="820" font-size="9.7" fill="#000" stroke="#000" stroke-width="0.1" textLength="46.6" lengthAdjust="spacingAndGlyphs">5 Dec 2018</text>
<text x="133.4" y="820" font-size="9.7" fill="#000" stroke="#000" stroke-width="0.1" textLength="51.6" lengthAdjust="spacingAndGlyphs">14 Dec 2018</text>
<text x="197.7" y="820" font-size="9.7" fill="#000" stroke="#000" stroke-width="0.1" textLength="51.4" lengthAdjust="spacingAndGlyphs">24 Dec 2018</text>
<text x="261.6" y="820" font-size="9.7" fill="#000" stroke="#000" stroke-width="0.1" textLength="44.4" lengthAdjust="spacingAndGlyphs">2 Jan 2019</text>
<text x="325.4" y="820" font-size="9.7" fill="#000" stroke="#000" stroke-width="0.1" textLength="49.9" lengthAdjust="spacingAndGlyphs">11 Jan 2019</text>
<text x="389.3" y="820" font-size="9.7" fill="#000" stroke="#000" stroke-width="0.1" textLength="50.1" lengthAdjust="spacingAndGlyphs">21 Jan 2019</text>
<text x="453.4" y="820" font-size="9.7" fill="#000" stroke="#000" stroke-width="0.1" textLength="49.9" lengthAdjust="spacingAndGlyphs">30 Jan 2019</text>
<text x="517.2" y="820" font-size="9.7" fill="#000" stroke="#000" stroke-width="0.1" textLength="46.9" lengthAdjust="spacingAndGlyphs">8 Feb 2019</text>
<text x="581.5" y="820" font-size="9.7" fill="#000" stroke="#000" stroke-width="0.1" textLength="51.4" lengthAdjust="spacingAndGlyphs">18 Feb 2019</text>
<text x="645.4" y="820" font-size="9.7" fill="#000" stroke="#000" stroke-width="0.1" textLength="51.9" lengthAdjust="spacingAndGlyphs">27 Feb 2019</text>
<text x="709" y="820" font-size="9.7" fill="#000" stroke="#000" stroke-width="0.1" textLength="47.6" lengthAdjust="spacingAndGlyphs">8 Mar 2019</text>
<text x="773.3" y="820" font-size="9.7" fill="#000" stroke="#000" stroke-width="0.1" textLength="51.9" lengthAdjust="spacingAndGlyphs">18 Mar 2019</text>
<text x="837.1" y="820" font-size="9.7" fill="#000" stroke="#000" stroke-width="0.1" textLength="52.5" lengthAdjust="spacingAndGlyphs">27 Mar 2019</text>
<text x="901.5" y="820" font-size="9.7" fill="#000" stroke="#000" stroke-width="0.1" textLength="45.6" lengthAdjust="spacingAndGlyphs">5 Apr 2019</text>
<text x="965.3" y="820" font-size="9.7" fill="#000" stroke="#000" stroke-width="0.1" textLength="51.2" lengthAdjust="spacingAndGlyphs">15 Apr 2019</text>
<text x="1029.1" y="820" font-size="9.7" fill="#000" stroke="#000" stroke-width="0.1" textLength="51.5" lengthAdjust="spacingAndGlyphs">25 Apr 2019</text>
<text x="1093" y="820" font-size="9.7" fill="#000" stroke="#000" stroke-width="0.1" textLength="50.300000000000004" lengthAdjust="spacingAndGlyphs">5 May 2019</text>
<text x="10" y="583.9" font-size="9.7" fill="#000" stroke="#000" stroke-width="0.1" textLength="147.5" lengthAdjust="spacingAndGlyphs">MACD(12,26,9) 0.002635 0.002653</text>
<text x="10" y="689.8" font-size="9.7" fill="#000" stroke="#000" stroke-width="0.1" textLength="67.5" lengthAdjust="spacingAndGlyphs">RSI(14) 56.1519</text>
<polygon points="9,40.5 16,40.5 12.5,36" fill="#000"/>
<text x="21" y="41" font-size="9.899999999999999" fill="#000" stroke="#000" stroke-width="0.1" textLength="68" lengthAdjust="spacingAndGlyphs">USDCAD-,Daily</text>
<text x="96.5" y="41" font-size="9.7" fill="#000" stroke="#000" stroke-width="0.1" textLength="32.2" lengthAdjust="spacingAndGlyphs">1.34717</text>
<text x="132.3" y="41" font-size="9.7" fill="#000" stroke="#000" stroke-width="0.1" textLength="32.2" lengthAdjust="spacingAndGlyphs">1.34737</text>
<text x="168.6" y="41" font-size="9.7" fill="#000" stroke="#000" stroke-width="0.1" textLength="32.2" lengthAdjust="spacingAndGlyphs">1.34643</text>
<text x="204.4" y="41" font-size="9.7" fill="#000" stroke="#000" stroke-width="0.1" textLength="32.2" lengthAdjust="spacingAndGlyphs">1.34647</text>
<rect x="8" y="45" width="222" height="70" fill="#ffffff"/>
<g shape-rendering="crispEdges">
<path d="M9,49 H61 V73 H118 V113 H9 Z" fill="#000099"/>
<rect x="10" y="50" width="50" height="23" fill="url(#tg)"/>
<rect x="10" y="73" width="107" height="39" fill="url(#pg)"/>
<rect x="10" y="72" width="50" height="2" fill="url(#tg)"/>
<rect x="13" y="72" width="44" height="1" fill="#1a1a90"/>
<rect x="13" y="73" width="44" height="1" fill="#7a7aff"/>
<path d="M176,49 H228 V113 H120 V73 H176 Z" fill="#000099"/>
<rect x="177" y="50" width="50" height="23" fill="url(#tg)"/>
<rect x="121" y="74" width="106" height="38" fill="url(#pg)"/>
<rect x="177" y="72" width="50" height="2" fill="url(#tg)"/>
<rect x="180" y="72" width="45" height="1" fill="#1a1a90"/>
<rect x="180" y="73" width="45" height="1" fill="#7a7aff"/>
<rect x="63" y="49" width="111" height="22" fill="#a8a8a8"/>
<rect x="64" y="50" width="109" height="20" fill="#ffffff"/>
<rect x="65" y="51" width="18" height="17" fill="url(#bg)"/>
<rect x="84" y="50" width="1" height="20" fill="#a8a8a8"/>
<rect x="152" y="50" width="1" height="20" fill="#a8a8a8"/>
<rect x="154" y="51" width="18" height="17" fill="url(#bg)"/>
</g>
<polygon points="70.5,58 76.5,58 73.5,61.5" fill="#4a64b4"/>
<polygon points="159.5,61 165.5,61 162.5,57.5" fill="#4a64b4"/>
<text x="21.5" y="65" font-size="12" fill="#ececff" stroke="#ececff" stroke-width="0.1" textLength="25.5" lengthAdjust="spacingAndGlyphs">SELL</text>
<text x="189.8" y="65" font-size="12" fill="#ececff" stroke="#ececff" stroke-width="0.1" textLength="23" lengthAdjust="spacingAndGlyphs">BUY</text>
<text x="125.3" y="64.2" font-size="12" fill="#000" stroke="#000" stroke-width="0.1" textLength="23.2" lengthAdjust="spacingAndGlyphs">1.00</text>
<text x="29.0" y="104" font-size="12" fill="#fff" stroke="#fff" stroke-width="0.1" font-weight="bold" textLength="24.2" lengthAdjust="spacingAndGlyphs">1.34</text>
<text x="56.4" y="103.7" font-size="35.5" fill="#fff" textLength="35.6" lengthAdjust="spacingAndGlyphs" font-family="'Liberation Sans', Arial, sans-serif">64</text>
<text x="95.6" y="88" font-size="12" fill="#fff" stroke="#fff" stroke-width="0.1" font-weight="bold">7</text>
<text x="139.2" y="104" font-size="12" fill="#fff" stroke="#fff" stroke-width="0.1" font-weight="bold" textLength="24.2" lengthAdjust="spacingAndGlyphs">1.34</text>
<text x="167.6" y="103.7" font-size="35.5" fill="#fff" textLength="35.6" lengthAdjust="spacingAndGlyphs" font-family="'Liberation Sans', Arial, sans-serif">66</text>
<text x="206.8" y="88" font-size="12" fill="#fff" stroke="#fff" stroke-width="0.1" font-weight="bold">8</text>
<rect x="1" y="828" width="1461" height="1" fill="#e3e3e3"/>
<rect x="1" y="830" width="1461" height="1" fill="#000"/>
<rect x="1" y="831" width="1461" height="20" fill="#f0f0f0"/>
<rect x="0" y="850" width="1462" height="1" fill="#f8f8f8"/>
<rect x="1" y="831" width="1" height="18" fill="#a0a0a0"/>
<rect x="2" y="831" width="1" height="18" fill="#696969"/>
<rect x="1" y="849" width="2" height="1" fill="#a0a0a0"/>
<g shape-rendering="crispEdges">
<rect x="331" y="830" width="107" height="18" fill="#ffffff"/>
<rect x="331" y="830" width="1" height="19" fill="#000"/>
<rect x="437" y="830" width="1" height="19" fill="#000"/>
<rect x="331" y="848" width="107" height="1" fill="#000"/>
</g>
<text x="18.7" y="845" font-size="12" fill="#6d6d6d" stroke="#6d6d6d" stroke-width="0.1" textLength="84" lengthAdjust="spacingAndGlyphs">EURUSD-,Daily</text>
<text x="125.2" y="845" font-size="12" fill="#6d6d6d" stroke="#6d6d6d" stroke-width="0.1" textLength="86.3" lengthAdjust="spacingAndGlyphs">AUDUSD-,Daily</text>
<text x="235.3" y="845" font-size="12" fill="#6d6d6d" stroke="#6d6d6d" stroke-width="0.1" textLength="83.3" lengthAdjust="spacingAndGlyphs">USDCHF-,Daily</text>
<text x="342.6" y="845" font-size="12" fill="#000" stroke="#000" stroke-width="0.1" textLength="85.4" lengthAdjust="spacingAndGlyphs">USDCAD-,Daily</text>
<text x="451.3" y="845" font-size="12" fill="#6d6d6d" stroke="#6d6d6d" stroke-width="0.1" textLength="87.6" lengthAdjust="spacingAndGlyphs">USDCNH-,Daily</text>
<text x="562.1" y="845" font-size="12" fill="#6d6d6d" stroke="#6d6d6d" stroke-width="0.1" textLength="96.9" lengthAdjust="spacingAndGlyphs">EURCHF-,Weekly</text>
<rect x="115" y="833" width="1" height="14" fill="#6d6d6d"/>
<rect x="223" y="833" width="1" height="14" fill="#6d6d6d"/>
<rect x="551" y="833" width="1" height="14" fill="#6d6d6d"/>
<rect x="671" y="833" width="1" height="14" fill="#6d6d6d"/>
<polygon points="1440.5,835.5 1440.5,842.5 1436.5,839" fill="#a0a0a0"/>
<polygon points="1456,835.5 1456,842.5 1460,839" fill="#a0a0a0"/>
</svg>
</body></html>
